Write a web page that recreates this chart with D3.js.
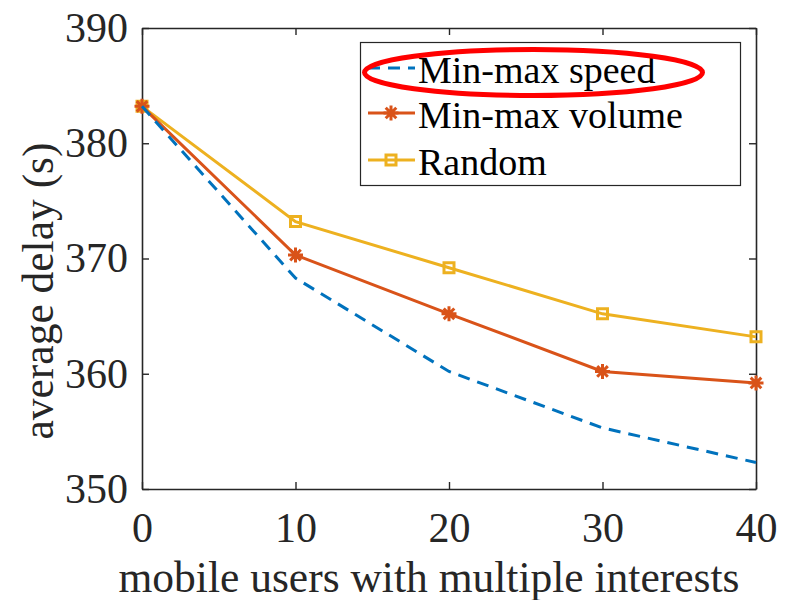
<!DOCTYPE html>
<html>
<head>
<meta charset="utf-8">
<script src="https://cdn.jsdelivr.net/npm/d3@7"></script>
<style>
  body { margin: 0; background: #fff; }
</style>
</head>
<body>
<div id="chart"></div>
<script>
// values
const users = [0, 10, 20, 30, 40];
const minMaxSpeed = [383.2, 368.3, 360.2, 355.3, 352.3];
const minMaxVolume = [383.2, 370.3, 365.2, 360.2, 359.2];
const randomDelay = [383.2, 373.2, 369.2, 365.2, 363.2];
const xTicks = [0, 10, 20, 30, 40];
const yTicks = [350, 360, 370, 380, 390];
const seriesNames = ["Min-max speed", "Min-max volume", "Random"];

const fontFamily = "Liberation Serif, Times New Roman, Times, DejaVu Serif, serif";
const width = 789, height = 600;
const plot = {left: 142, right: 756, top: 28, bottom: 489};

const svg = d3.select("#chart")
    .append("svg")
        .attr("width", width)
        .attr("height", height)
        .attr("font-family", fontFamily);

const xScale = d3.scaleLinear().domain([0, 40]).range([plot.left, plot.right]);
const yScale = d3.scaleLinear().domain([350, 390]).range([plot.bottom, plot.top]);

// axes, matlab style: ticks pointing in, box on
function styleAxis(g){
    g.attr("font-family", fontFamily).attr("font-size", 42);
    g.select(".domain").attr("stroke", "#262626").attr("stroke-width", 1.6);
    g.selectAll(".tick line").attr("stroke", "#262626").attr("stroke-width", 1.4);
    g.selectAll(".tick text").attr("fill", "#262626");
}

svg.append("g")
    .attr("transform", "translate(0," + plot.bottom + ")")
    .call(d3.axisBottom(xScale).tickValues(xTicks).tickSizeInner(-7).tickSizeOuter(0).tickPadding(23))
    .call(styleAxis);

svg.append("g")
    .attr("transform", "translate(0," + plot.top + ")")
    .call(d3.axisTop(xScale).tickValues(xTicks).tickFormat("").tickSizeInner(-7).tickSizeOuter(0))
    .call(styleAxis);

svg.append("g")
    .attr("transform", "translate(" + plot.left + ",0)")
    .call(d3.axisLeft(yScale).tickValues(yTicks).tickSizeInner(-7).tickSizeOuter(0).tickPadding(14))
    .call(styleAxis);

svg.append("g")
    .attr("transform", "translate(" + plot.right + ",0)")
    .call(d3.axisRight(yScale).tickValues(yTicks).tickFormat("").tickSizeInner(-7).tickSizeOuter(0))
    .call(styleAxis);

// marker shapes
function asteriskPath(r){
    const d = r * Math.SQRT1_2;
    return "M" + (-r) + ",0L" + r + ",0M0," + (-r) + "L0," + r +
           "M" + (-d) + "," + (-d) + "L" + d + "," + d +
           "M" + (-d) + "," + d + "L" + d + "," + (-d);
}
function squarePath(r){
    return "M" + (-r) + "," + (-r) + "H" + r + "V" + r + "H" + (-r) + "Z";
}

const series = [
    {name: seriesNames[0], values: minMaxSpeed, color: "#0072BD", dash: "12,8", marker: null},
    {name: seriesNames[1], values: minMaxVolume, color: "#D95319", dash: null, marker: asteriskPath(7.5)},
    {name: seriesNames[2], values: randomDelay, color: "#EDB120", dash: null, marker: squarePath(5)}
];

const line = d3.line()
    .x((d, i) => xScale(users[i]))
    .y(d => yScale(d));

// draw in reverse so Min-max speed sits on top
series.slice().reverse().forEach(s => {
    svg.append("path")
        .datum(s.values)
        .attr("fill", "none")
        .attr("stroke", s.color)
        .attr("stroke-width", 3)
        .attr("stroke-dasharray", s.dash)
        .attr("d", line);

    if (s.marker){
        svg.selectAll(null)
            .data(s.values)
            .enter()
            .append("path")
                .attr("transform", (d, i) => "translate(" + xScale(users[i]) + "," + yScale(d) + ")")
                .attr("d", s.marker)
                .attr("fill", "none")
                .attr("stroke", s.color)
                .attr("stroke-width", 3);
    }
});

// axis labels
svg.append("text")
    .attr("x", 429)
    .attr("y", 592)
    .attr("text-anchor", "middle")
    .attr("font-size", 43.5)
    .attr("fill", "#262626")
    .text("mobile users with multiple interests");

svg.append("text")
    .attr("transform", "translate(53,291) rotate(-90)")
    .attr("text-anchor", "middle")
    .attr("font-size", 43.5)
    .attr("fill", "#262626")
    .text("average delay (s)");

// legend
const legend = svg.append("g");
legend.append("rect")
    .attr("x", 360.5)
    .attr("y", 42.5)
    .attr("width", 380)
    .attr("height", 143)
    .attr("fill", "#fff")
    .attr("stroke", "#262626")
    .attr("stroke-width", 1.2);

const rowY = [68, 113, 160];
series.forEach((s, i) => {
    legend.append("line")
        .attr("x1", 368)
        .attr("x2", 415)
        .attr("y1", rowY[i])
        .attr("y2", rowY[i])
        .attr("stroke", s.color)
        .attr("stroke-width", 3)
        .attr("stroke-dasharray", s.dash);
    if (s.marker){
        legend.append("path")
            .attr("transform", "translate(391," + rowY[i] + ")")
            .attr("d", s.marker)
            .attr("fill", "none")
            .attr("stroke", s.color)
            .attr("stroke-width", 3);
    }
    legend.append("text")
        .attr("x", 418)
        .attr("y", rowY[i] + 15)
        .attr("font-size", 38)
        .attr("fill", "#000")
        .text(s.name);
});

// red highlight ellipse around the first legend entry
svg.append("ellipse")
    .attr("cx", 533.5)
    .attr("cy", 72.5)
    .attr("rx", 169)
    .attr("ry", 23)
    .attr("fill", "none")
    .attr("stroke", "#ff0000")
    .attr("stroke-width", 5);
</script>
</body>
</html>
